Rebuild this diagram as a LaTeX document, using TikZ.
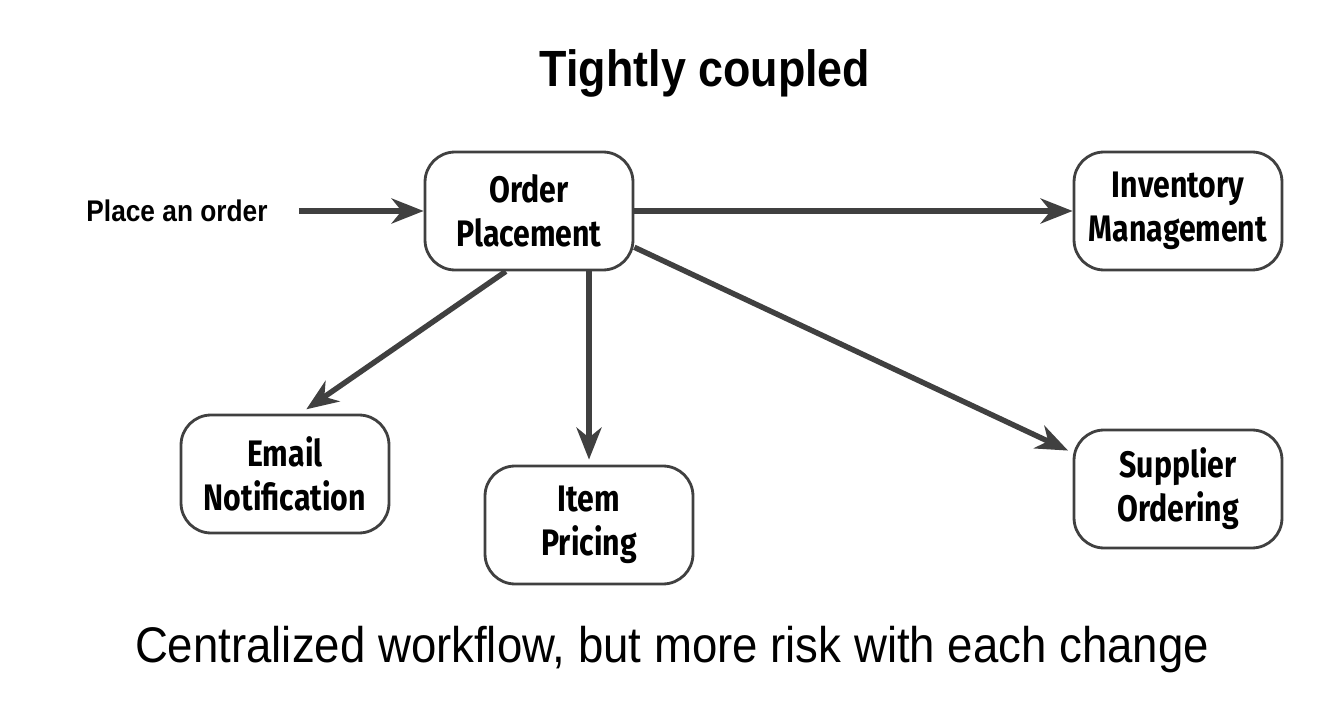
\documentclass[tikz,border=0pt]{standalone}
\usepackage{fontspec}
\setmainfont{Liberation Sans}
\newfontfamily\boxfont[FakeStretch=0.82]{Fira Sans}
\newfontfamily\narrowfont[FakeStretch=0.88]{Liberation Sans}
\newfontfamily\captionfont[FakeStretch=0.91]{Liberation Sans}
\usepackage{tikz}
\usetikzlibrary{arrows.meta,calc,positioning}
\definecolor{linegray}{HTML}{404040}

\begin{document}
\begin{tikzpicture}[x=0.02cm,y=-0.02cm,
  service/.style={draw=linegray,line width=1.6pt,rounded corners=0.6cm,
    minimum width=4.16cm,minimum height=2.36cm,align=center,
    font=\boxfont\bfseries\fontsize{21}{25}\selectfont},
  flow/.style={draw=linegray,line width=3.1pt,
    -{Stealth[length=0.64cm,width=0.5cm,inset=0.2cm]}}]
\useasboundingbox (0,0) rectangle (1339,702);
% titolo
\node[font=\narrowfont\bfseries\fontsize{29}{34}\selectfont] (title) at (705,73) {Tightly coupled};
% servizi
\node[service] (order) at (529,211) {Order\\Placement};
\node[service] (inventory) at (1178,211) {Inventory\\Management};
\node[service] (email) at (285,474) {Email\\Notification};
\node[service] (pricing) at (589,525) {Item\\Pricing};
\node[service] (supplier) at (1178,489) {Supplier\\Ordering};
\node[font=\narrowfont\bfseries\fontsize{17}{20}\selectfont] (place) at (177,211) {Place an order};
% chiamate
\draw[flow,shorten <=0.5cm] (place.east) -- (order.west);
\draw[flow] (order.east) -- (inventory.west);
\draw[flow,shorten >=0.15cm] (order.249) -- (email.76);
\draw[flow,shorten >=0.1cm] (pricing.north |- order.south) -- (pricing.north);
\draw[flow,shorten >=0.1cm] (order.-19) -- (supplier.161);
% didascalia
\node[font=\captionfont\fontsize{28.5}{33}\selectfont] (caption) at (672,650) {Centralized workflow, but more risk with each change};
\end{tikzpicture}
\end{document}
